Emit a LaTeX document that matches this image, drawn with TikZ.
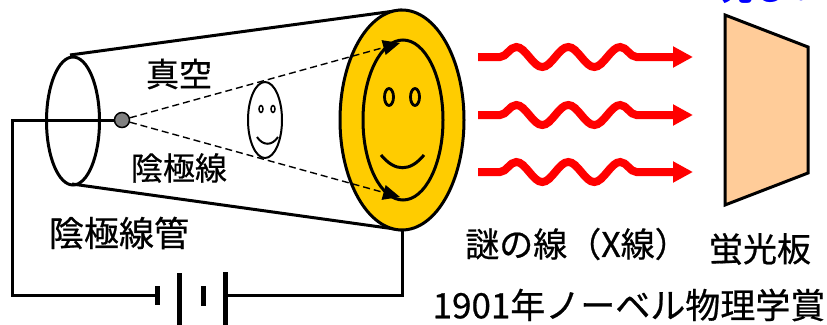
\documentclass[tikz,border=0pt]{standalone}
\usepackage{fontspec}
\setmainfont{Noto Sans CJK JP}[UprightFeatures={FakeBold=0.6}]
\usetikzlibrary{arrows.meta,decorations.pathmorphing}

\definecolor{tubeface}{RGB}{255,204,0}
\definecolor{screenfill}{RGB}{255,204,153}
\definecolor{xray}{RGB}{255,0,0}
\definecolor{shine}{RGB}{0,0,255}

\begin{document}
\begin{tikzpicture}[x=1pt,y=-1pt,
  outline/.style={line width=3pt},
  wire/.style={line width=3pt},
  plate/.style={line width=5pt},
  beam/.style={line width=1.4pt, dash pattern=on 7pt off 4pt,
    -{Triangle[length=17pt,width=15pt]}},
  xwave/.style={xray, line width=8pt, -{Triangle[length=20pt,width=20pt]},
    decorate, decoration={snake, segment length=52pt, amplitude=10pt,
    pre length=22pt, post length=37pt}},
  jp/.style={font=\fontsize{#1}{#1}\selectfont, inner sep=0pt}]
\useasboundingbox (0,0) rectangle (827,324);

% cathode and circuit
\node[circle, draw, fill=gray, line width=1.5pt, minimum size=15pt, inner sep=0pt]
  (cathode) at (122,120) {};
\coordinate (anode) at (402,230);
\draw[wire] (cathode.west) -- (12,120) |- (157,295);
\draw[wire] (225,295) -| (anode);
\draw[plate] (157,286) -- (157,305);
\draw[plate] (179,273) -- (179,330);
\draw[plate] (203,286) -- (203,306);
\draw[plate] (225,272) -- (225,330);

% tube
\draw[outline] (70,55) -- (402,10);
\draw[outline] (72,184) -- (402,230);
\draw[outline] (73,121) ellipse [x radius=26.5, y radius=64];
\filldraw[outline, fill=tubeface] (402,120) ellipse [x radius=62, y radius=110];
\draw[outline] (403,120) ellipse [x radius=40, y radius=80];

% glowing face on the glass
\draw[line width=2.8pt] (389,97) ellipse [x radius=4.5, y radius=8.5];
\draw[line width=2.8pt] (415,97) ellipse [x radius=4.5, y radius=8.5];
\draw[line width=3pt] (381,155) .. controls (395,172) and (410,172) .. (424,155);

% shadow face
\draw[line width=2pt] (265,120) ellipse [x radius=17, y radius=38];
\draw[line width=1.5pt] (261,109) ellipse [x radius=2, y radius=3.5];
\draw[line width=1.5pt] (273,109) ellipse [x radius=2, y radius=3.5];
\draw[line width=2pt] (257,137) .. controls (263,146) and (272,146) .. (278,137);

% cathode rays
\coordinate (raytop) at (400,43);
\coordinate (raybot) at (400,197);
\draw[beam] (cathode) -- (raytop);
\draw[beam] (cathode) -- (raybot);

% X-rays
\foreach \y in {57,115,172}
  \draw[xwave] (478,\y) -- (693,\y);

% fluorescent screen
\filldraw[fill=screenfill, line width=3pt] (725,15) -- (808,47) -- (808,173) -- (725,205) -- cycle;

% labels
\node[jp=33] (vacuum) at (179,74) {真空};
\node[jp=32] (raylabel) at (179,168) {陰極線};
\node[jp=35] (tubelabel) at (119,233) {陰極線管};
\node[jp=34] (xlabel) at (577,244) {謎の線（X線）};
\node[jp=34] (screenlabel) at (760,249) {蛍光板};
\node[jp=35] (prize) at (629,305) {1901年ノーベル物理学賞};
\node[anchor=base west, inner sep=0pt, text=shine, font=\bfseries\fontsize{32}{32}\selectfont]
  (glow) at (721,1) {光る！};
\end{tikzpicture}
\end{document}
